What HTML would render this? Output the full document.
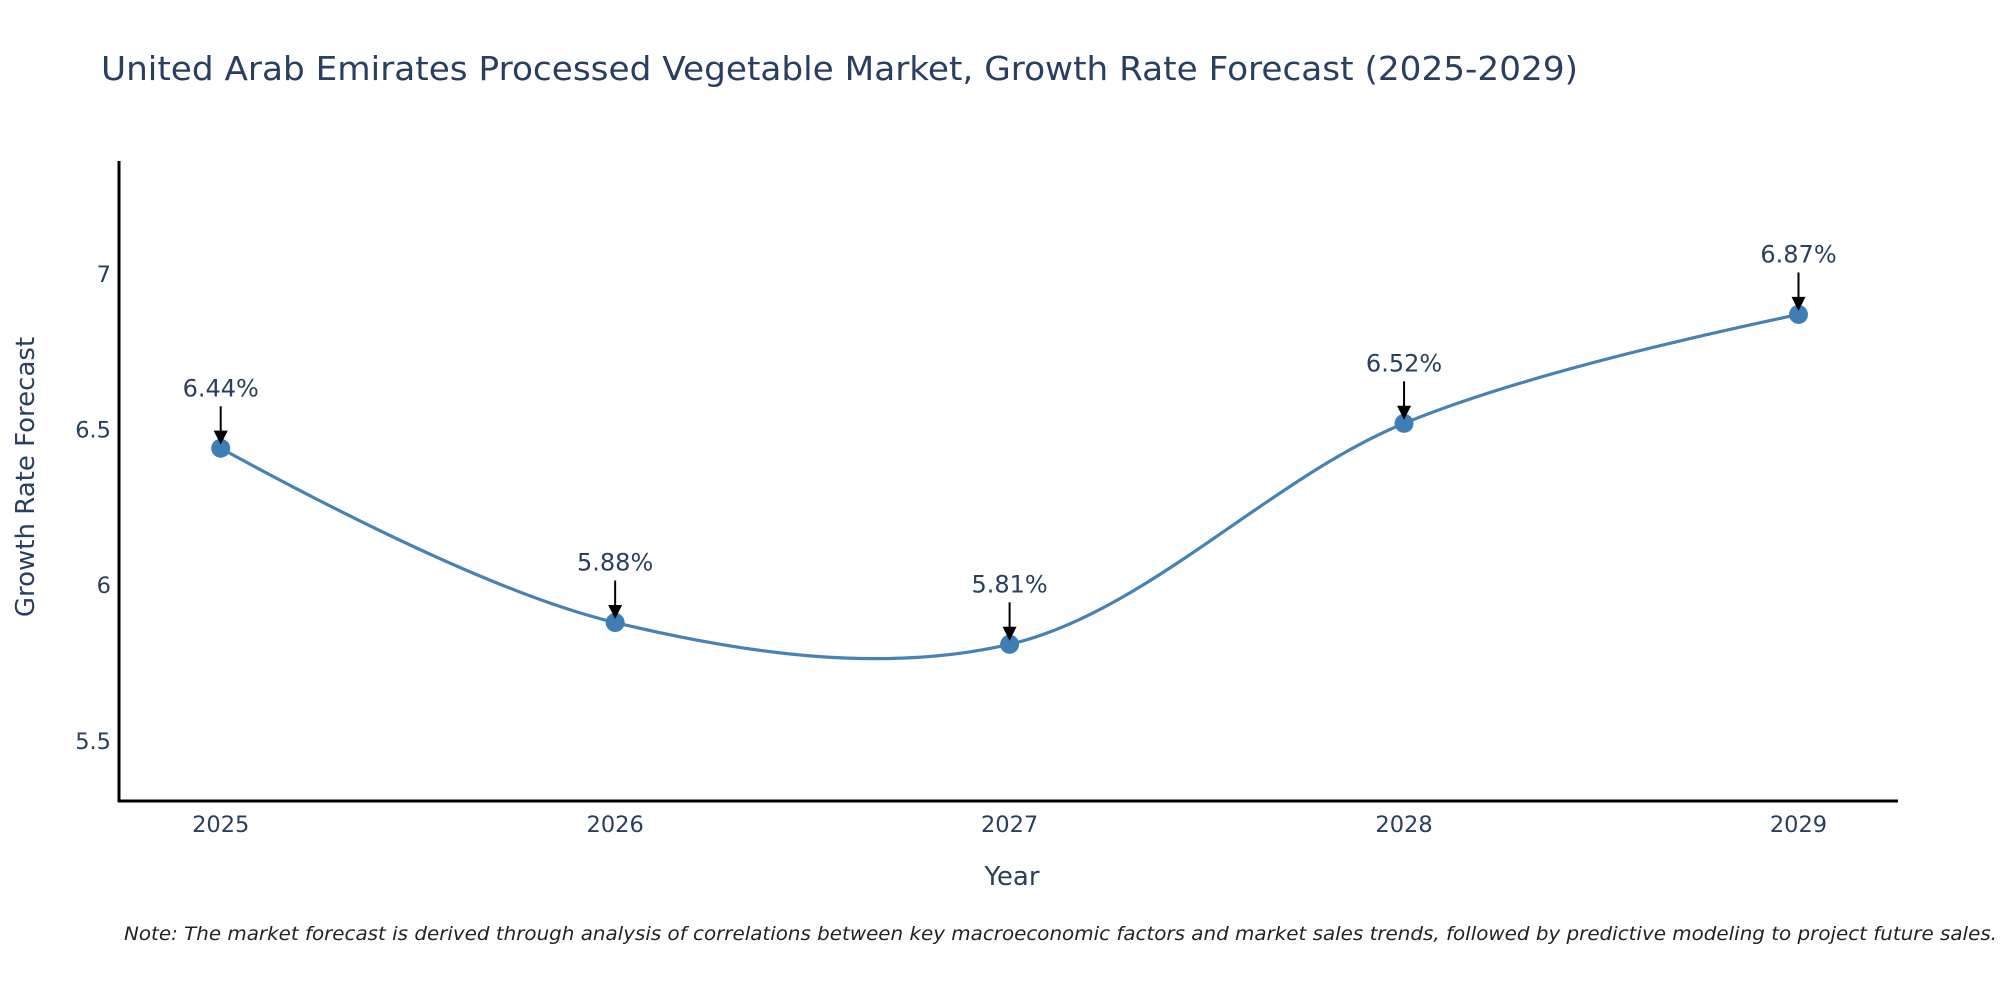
<!DOCTYPE html>
<html><head><meta charset="utf-8"><style>
html,body{margin:0;padding:0;background:#fff;}
svg{display:block;font-family:"DejaVu Sans","Liberation Sans",sans-serif;}
</style></head><body>
<svg id="chart" width="2000" height="1000" viewBox="0 0 2000 1000">
<defs><marker id="ah" viewBox="0 0 10 10" refX="9" refY="5" markerWidth="7" markerHeight="7" markerUnits="userSpaceOnUse" orient="auto"><path d="M0,0L10,5L0,10z" fill="#000"/></marker>
<marker id="ah2" viewBox="0 0 10 10" refX="9" refY="5" markerWidth="16" markerHeight="14" markerUnits="userSpaceOnUse" orient="auto"><path d="M0,0L10,5L0,10z" fill="#000"/></marker></defs>
<text x="101" y="80" font-size="33" fill="#2a3f5f" textLength="1477" lengthAdjust="spacingAndGlyphs">United Arab Emirates Processed Vegetable Market, Growth Rate Forecast (2025-2029)</text>
<g id="yticks"></g>
<g id="xticks"></g>
<path id="line" fill="none" stroke="#4682b4" stroke-width="3.2"/>
<g id="marks"></g>
<g id="annots"></g>
<line x1="119" y1="161" x2="119" y2="802" stroke="#000" stroke-width="3"/>
<line x1="118" y1="801" x2="1898" y2="801" stroke="#000" stroke-width="3"/>
<text x="1012" y="885" font-size="26" fill="#2a3f5f" text-anchor="middle">Year</text>
<text transform="translate(34,477) rotate(-90)" font-size="26" fill="#2a3f5f" text-anchor="middle">Growth Rate Forecast</text>
<text x="124" y="940" font-size="19" font-style="italic" fill="#222" textLength="1873" lengthAdjust="spacingAndGlyphs">Note: The market forecast is derived through analysis of correlations between key macroeconomic factors and market sales trends, followed by predictive modeling to project future sales.</text>
</svg>
<script>
const years = [2025, 2026, 2027, 2028, 2029];
const rates = [6.44, 5.88, 5.81, 6.52, 6.87];
const rateLabels = ["6.44%", "5.88%", "5.81%", "6.52%", "6.87%"];
const yTickValues = [5.5, 6, 6.5, 7];
const yTickLabels = ["5.5", "6", "6.5", "7"];
const NS = "http://www.w3.org/2000/svg";
function xs(v){ return 220.7 + (v - 2025) * 394.45; }
function ys(v){ return 274 - (v - 7) * 311.2; }
function mk(tag, attrs, parent){ const e = document.createElementNS(NS, tag); for (const k in attrs) e.setAttribute(k, attrs[k]); parent.appendChild(e); return e; }
const yt = document.getElementById('yticks');
yTickValues.forEach((v,i)=>{ const t = mk('text',{x:111,y:ys(v)+8,'font-size':22.5,fill:'#2a3f5f','text-anchor':'end'},yt); t.textContent = yTickLabels[i];

 });
const xt = document.getElementById('xticks');
years.forEach(v=>{ const t = mk('text',{x:xs(v),y:832,'font-size':22.5,fill:'#2a3f5f','text-anchor':'middle'},xt); t.textContent = String(v);

 });
const pts = years.map((y,i)=>[xs(y), ys(rates[i])]);
function tangent(p0,p1,p2,s){
  const d1x=p0[0]-p1[0], d1y=p0[1]-p1[1], d2x=p2[0]-p1[0], d2y=p2[1]-p1[1];
  const d1a=Math.pow(d1x*d1x+d1y*d1y,0.25), d2a=Math.pow(d2x*d2x+d2y*d2y,0.25);
  const nx=(d2a*d2a*d1x-d1a*d1a*d2x)*s, ny=(d2a*d2a*d1y-d1a*d1a*d2y)*s;
  const a=3*d2a*(d1a+d2a), b=3*d1a*(d1a+d2a);
  return [[p1[0]+nx/a,p1[1]+ny/a],[p1[0]-nx/b,p1[1]-ny/b]];
}
const tg=[]; for(let i=1;i<pts.length-1;i++) tg.push(tangent(pts[i-1],pts[i],pts[i+1],1));
const f=p=>p[0].toFixed(2)+','+p[1].toFixed(2);
let d='M'+f(pts[0])+'Q'+f(tg[0][0])+' '+f(pts[1]);
for(let i=2;i<pts.length-1;i++) d+='C'+f(tg[i-2][1])+' '+f(tg[i-1][0])+' '+f(pts[i]);
d+='Q'+f(tg[tg.length-1][1])+' '+f(pts[pts.length-1]);
document.getElementById('line').setAttribute('d',d);
const mg=document.getElementById('marks'), ag=document.getElementById('annots');
pts.forEach((p,i)=>{
  const c=mk('circle',{cx:p[0],cy:p[1],r:9.5,fill:'#3d7fb5'},mg);
  
  
  const l=mk('line',{x1:p[0],y1:p[1]-42,x2:p[0],y2:p[1]-5,stroke:'#000','stroke-width':2,'marker-end':'url(#ah2)'},ag);
  
  
  const t=mk('text',{x:p[0],y:p[1]-52,'font-size':24,fill:'#2a3f5f','text-anchor':'middle'},ag);
  t.textContent=rateLabels[i];
  
  
});
</script>
</body></html>
